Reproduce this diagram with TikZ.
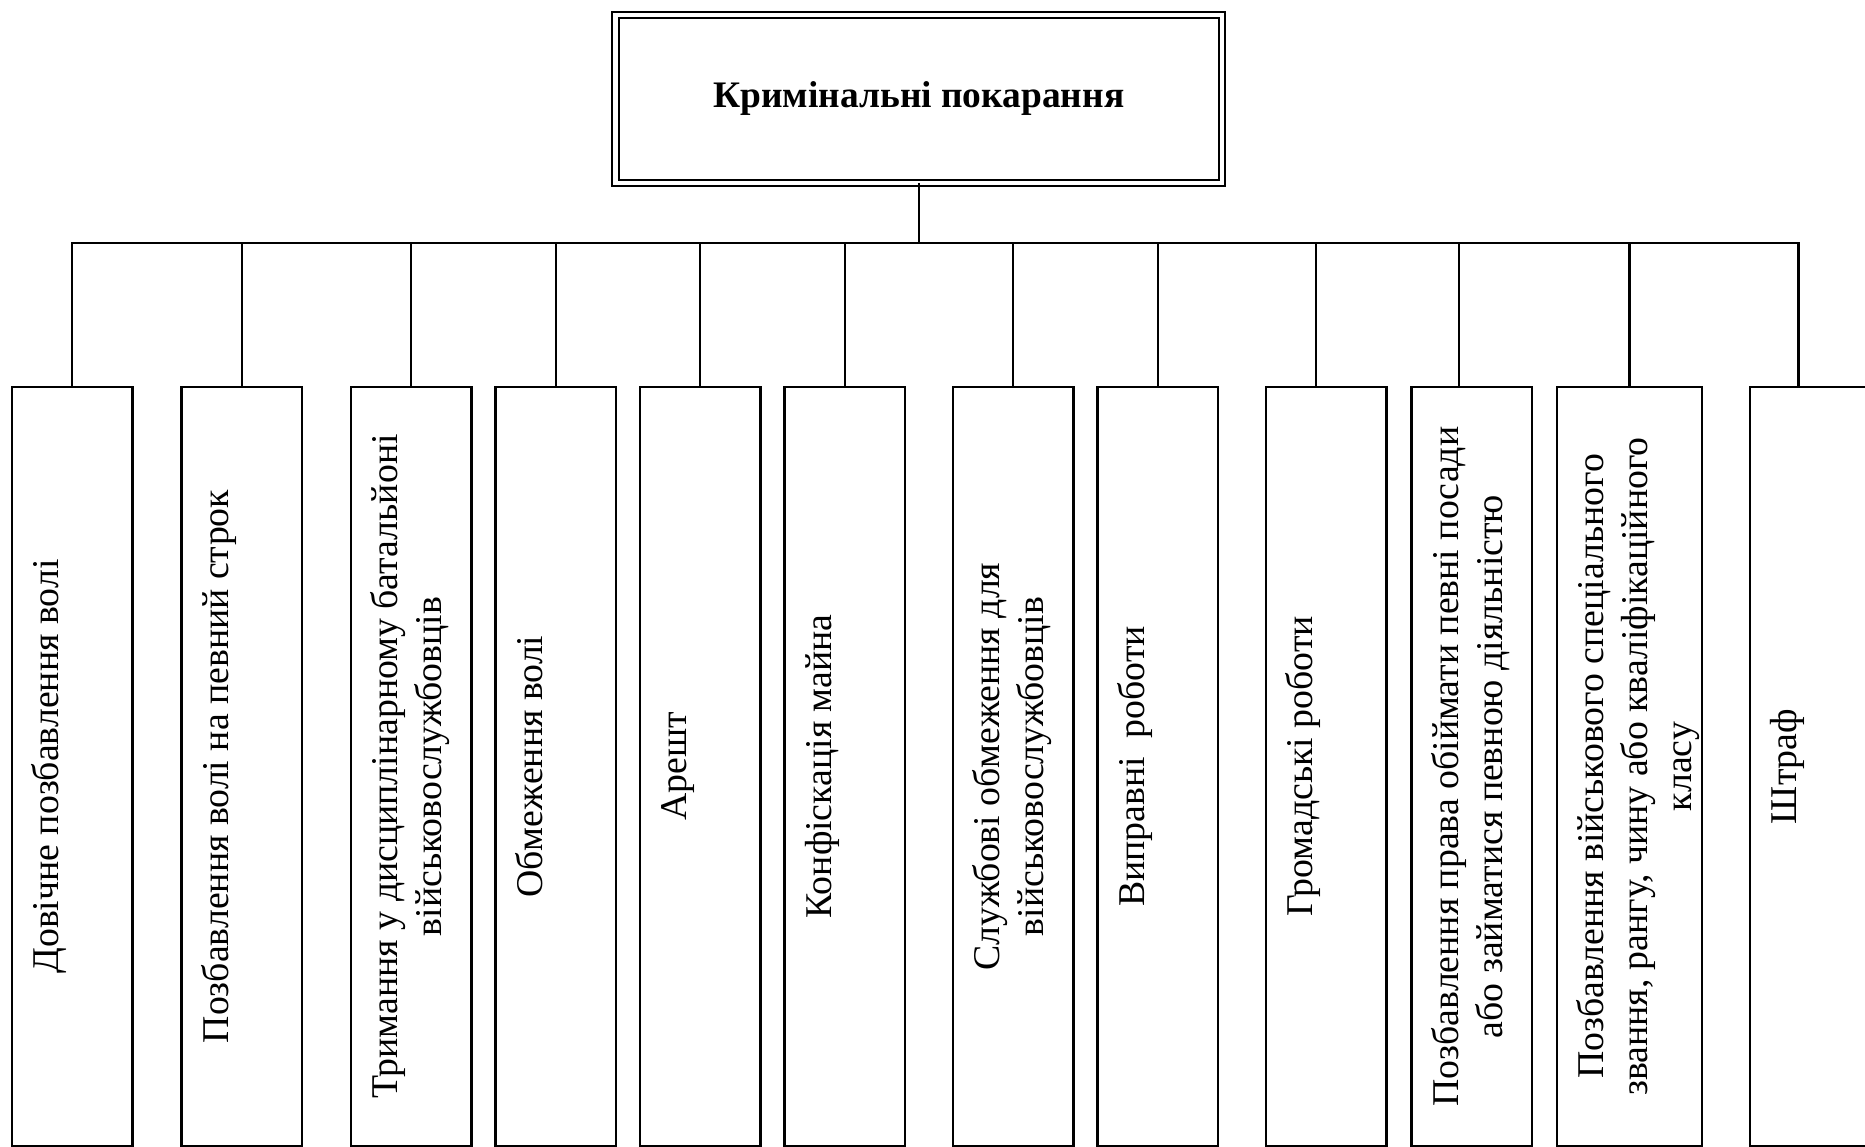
\documentclass[tikz,border=0pt]{standalone}
\usepackage{fontspec}
\setmainfont{Liberation Serif}
\usetikzlibrary{positioning}

\begin{document}
\begin{tikzpicture}[
    node distance=2.4mm,
    kind/.style={draw, line width=0.6pt, outer sep=0pt, minimum width=12.05mm, minimum height=75.9mm, inner sep=0pt},
    wide/.style={kind, minimum width=14.5mm},
    lbl/.style={rotate=90, anchor=north, align=center, inner sep=0pt, font=\fontsize{10.75}{12.5}\selectfont},
    head/.style={draw, double, double distance=0.45mm, line width=0.6pt, outer sep=0pt, minimum width=60.65mm, minimum height=16.8mm, font=\fontsize{10.65}{12}\selectfont\bfseries},
    link/.style={line width=0.6pt}
]
\useasboundingbox (0,0) rectangle (186.5mm,-114.7mm);
\clip (0,0) rectangle (186.5mm,-114.7mm);

% head box
\node[head] (top) at (91.88mm,-9.9mm) {Кримінальні покарання};
\coordinate (bus) at (0,-24.3mm);

% kinds of punishment
\node[kind, anchor=north west] (b1) at (1.2mm,-38.7mm) {};
\node[kind, right=4.9mm of b1] (b2) {};
\node[kind, right=4.9mm of b2] (b3) {};
\node[kind, right=of b3] (b4) {};
\node[kind, right=of b4] (b5) {};
\node[kind, right=of b5] (b6) {};
\node[kind, right=4.8mm of b6] (b7) {};
\node[kind, right=of b7] (b8) {};
\node[kind, right=4.8mm of b8] (b9) {};
\node[kind, right=2.5mm of b9] (b10) {};
\node[wide, right=2.5mm of b10] (b11) {};
\node[kind, minimum width=15mm, right=4.8mm of b11] (b12) {};

\node[lbl] (t1) at ([xshift=1.52mm]b1.west) {\strut Довічне позбавлення волі};
\node[lbl] (t2) at ([xshift=1.52mm]b2.west) {\strut Позбавлення волі на певний строк};
\node[lbl] (t3) at ([xshift=1.52mm]b3.west) {\strut Тримання у дисциплінарному батальйоні\\ військовослужбовців};
\node[lbl] (t4) at ([xshift=1.52mm]b4.west) {\strut Обмеження волі};
\node[lbl] (t5) at ([xshift=1.52mm]b5.west) {\strut Арешт};
\node[lbl] (t6) at ([xshift=1.52mm]b6.west) {\strut Конфіскація майна};
\node[lbl] (t7) at ([xshift=1.52mm]b7.west) {\strut Службові обмеження для\\ військовослужбовців};
\node[lbl] (t8) at ([xshift=1.52mm]b8.west) {\strut Виправні~ роботи};
\node[lbl] (t9) at ([xshift=1.52mm]b9.west) {\strut Громадські роботи};
\node[lbl] (t10) at ([xshift=1.52mm]b10.west) {\strut Позбавлення права обіймати певні посади\\ або займатися певною діяльністю};
\node[lbl] (t11) at ([xshift=1.52mm]b11.west) {\strut Позбавлення військового спеціального\\ звання, рангу, чину або кваліфікаційного\\ класу};
\node[lbl] (t12) at ([xshift=1.52mm]b12.west) {\strut Штраф};

% connectors
\path (b12.north west) ++(4.85mm,0) coordinate (k12);
\draw[link] (top.south) -- (top.south |- bus);
\draw[link] (b1.north) |- (k12 |- bus) -- (k12);
\foreach \b/\s in {b2/0, b3/0, b4/0, b5/0, b6/0, b7/0, b8/0, b9/-1.05, b10/-1.3, b11/0}
    \draw[link] ([xshift=\s mm]\b.north) -- ++(0,14.4mm);
\end{tikzpicture}
\end{document}
